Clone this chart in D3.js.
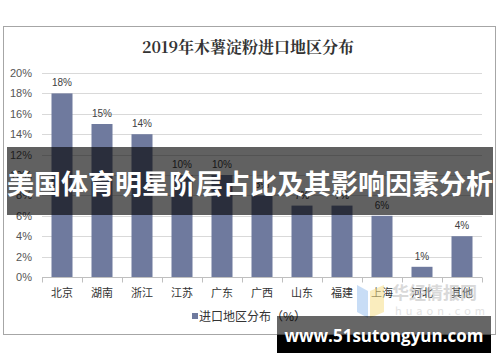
<!DOCTYPE html>
<html>
<head>
<meta charset="utf-8">
<script src="https://cdn.jsdelivr.net/npm/d3@7"></script>
<style>
  body{margin:0;background:#fff;}
  svg{display:block;font-family:"Noto Sans CJK SC","Noto Sans",sans-serif;}
</style>
</head>
<body>
<div id="chart"></div>
<script>
  var width=500,height=362;
  var margin={left:42,top:73,right:18,bottom:85};

  var regions=["北京","湖南","浙江","江苏","广东","广西","山东","福建","上海","河北","其他"];
  var shares=[18,15,14,10,10,8,7,7,6,1,4];
  var yTicks=[0,2,4,6,8,10,12,14,16,18,20];

  var barColor="#6f7a9e";

  var svg=d3.select("#chart").append("svg")
            .attr("width",width).attr("height",height);

  // chart frame
  svg.append("rect")
     .attr("x",3.5).attr("y",26.5)
     .attr("width",492).attr("height",308)
     .attr("fill","#fff").attr("stroke","#a6a6a6");

  svg.append("text")
     .attr("x",248).attr("y",53)
     .attr("text-anchor","middle")
     .style("font-size","16px").style("font-weight","bold")
     .style("font-family","'Noto Serif CJK SC','DejaVu Serif','Noto Sans CJK SC',serif")
     .attr("fill","#333")
     .text("2019年木薯淀粉进口地区分布");

  var x=d3.scaleBand().domain(regions).range([margin.left,width-margin.right]).paddingInner(0.5).paddingOuter(0.25);
  var y=d3.scaleLinear().domain([0,20]).range([height-margin.bottom,margin.top]);

  // grid
  svg.append("g").selectAll("line")
     .data(yTicks.slice(1))
     .enter().append("line")
     .attr("x1",margin.left).attr("x2",width-margin.right)
     .attr("y1",d=>Math.round(y(d))+0.5).attr("y2",d=>Math.round(y(d))+0.5)
     .attr("stroke","#d9d9d9");

  var yAxis=d3.axisLeft(y).tickValues(yTicks).tickFormat(d=>d+"%").tickSize(0).tickPadding(10);
  var gy=svg.append("g").attr("transform","translate("+margin.left+",0)").call(yAxis);
  gy.select(".domain").remove();
  gy.selectAll("text").style("font-size","11px").style("font-family","'Liberation Sans',Arial,sans-serif").attr("fill","#555");

  // bars
  svg.append("g").selectAll("rect")
     .data(regions)
     .enter().append("rect")
     .attr("x",d=>x(d)-0.5)
     .attr("y",(d,i)=>y(shares[i]))
     .attr("width",x.bandwidth()+1)
     .attr("height",(d,i)=>y(0)-y(shares[i]))
     .attr("fill",barColor);

  svg.append("g").selectAll("text")
     .data(regions)
     .enter().append("text")
     .attr("x",d=>x(d)+x.bandwidth()/2)
     .attr("y",(d,i)=>y(shares[i])-7)
     .attr("text-anchor","middle")
     .style("font-size","10px").style("font-family","'Liberation Sans',Arial,sans-serif")
     .attr("fill","#404040")
     .text((d,i)=>shares[i]+"%");

  // x axis with category dividers
  var xBase=Math.round(y(0))+0.5;
  svg.append("line")
     .attr("x1",margin.left).attr("x2",width-margin.right)
     .attr("y1",xBase).attr("y2",xBase)
     .attr("stroke","#bfbfbf");
  var step=x.step();
  svg.append("g").selectAll("line")
     .data(d3.range(regions.length+1))
     .enter().append("line")
     .attr("x1",i=>margin.left+i*step+0.5).attr("x2",i=>margin.left+i*step+0.5)
     .attr("y1",xBase).attr("y2",xBase+5)
     .attr("stroke","#bfbfbf");
  svg.append("g").selectAll("text")
     .data(regions)
     .enter().append("text")
     .attr("x",d=>x(d)+x.bandwidth()/2)
     .attr("y",xBase+19)
     .attr("text-anchor","middle")
     .style("font-size","11px")
     .attr("fill","#333")
     .text(d=>d);

  // legend
  svg.append("rect").attr("x",192).attr("y",313).attr("width",6).attr("height",6).attr("fill",barColor);
  svg.append("text").attr("x",199).attr("y",321)
     .style("font-size","12px").attr("fill","#333")
     .text("进口地区分布（%）");

  // huaon watermark
  var wm=svg.append("g").attr("opacity",0.55);
  wm.append("path").attr("d","M357,285 L368,291 L368,318 L357,312 Z").attr("fill","#9cc3f0");
  wm.append("path").attr("d","M370,291 L384,285 L384,312 L370,318 Z").attr("fill","#f7e08a");
  wm.append("text").attr("x",392).attr("y",299)
    .style("font-size","17px").style("font-weight","bold").attr("fill","#bbb")
    .text("华经情报网");
  wm.append("text").attr("x",395).attr("y",315)
    .style("font-size","11px").style("letter-spacing","4px").attr("fill","#ccc")
    .text("huaon.com");

  // overlay banner
  svg.append("rect").attr("x",7).attr("y",147).attr("width",486).attr("height",68)
     .attr("fill","#000").attr("opacity",0.62);
  svg.append("text").attr("x",250).attr("y",194)
     .attr("text-anchor","middle")
     .style("font-size","27px").style("font-weight","bold")
     .attr("fill","#fff")
     .text("美国体育明星阶层占比及其影响因素分析");

  // site watermark
  svg.append("rect").attr("x",277).attr("y",335).attr("width",214).attr("height",18).attr("fill","#000");
  svg.append("rect").attr("x",277).attr("y",316).attr("width",214).attr("height",19).attr("fill","#000").attr("opacity",0.6);
  svg.append("text").attr("x",384).attr("y",342)
     .attr("text-anchor","middle")
     .style("font-size","17px").style("font-weight","bold")
     .style("font-family","'Open Sans','DejaVu Sans',sans-serif")
     .attr("fill","#fff")
     .text("www.51sutongyun.com");
</script>
</body>
</html>
